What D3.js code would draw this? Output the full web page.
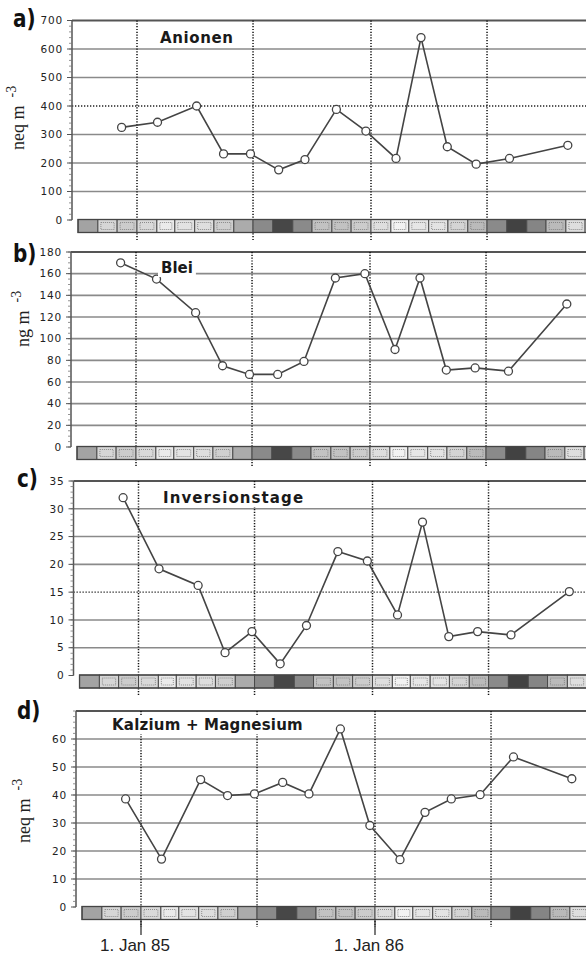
<!DOCTYPE html>
<html><head><meta charset="utf-8">
<script src="https://cdn.jsdelivr.net/npm/d3@7"></script>
<style>body{margin:0;background:#fff}svg{display:block}</style>
</head><body>
<svg id="chart" width="586" height="957"></svg>
<script>
// ---------- DATA ----------
const sampleDates = ["1984-12-08","1985-02-02","1985-04-04","1985-05-16","1985-06-27","1985-08-10",
  "1985-09-20","1985-11-08","1985-12-24","1986-02-09","1986-03-20","1986-04-30","1986-06-14",
  "1986-08-05","1986-11-04"];
const anionen = [325, 343, 400, 232, 232, 176, 212, 388, 312, 216, 640, 257, 196, 216, 262];
const blei = [170, 155, 124, 75, 67, 67, 79, 156, 160, 90, 156, 71, 73, 70, 132];
const inversionstage = [32, 19.2, 16.2, 4.1, 7.9, 2.1, 9.0, 22.3, 20.6, 10.9, 27.6, 7.0, 7.9, 7.3, 15.1];
const kalziumMagnesium = [38.6, 17.1, 45.5, 39.8, 40.4, 44.5, 40.4, 63.6, 29.1, 16.9, 33.8, 38.6, 40.1, 53.6, 45.8];

const ticksAnionen = [0, 100, 200, 300, 400, 500, 600, 700];
const ticksBlei = [0, 20, 40, 60, 80, 100, 120, 140, 160, 180];
const ticksInversion = [0, 5, 10, 15, 20, 25, 30, 35];
const ticksKalzium = [0, 10, 20, 30, 40, 50, 60];

// monthly strip (Oct 1984 .. Dec 1986), darkness level 0..1
const stripStart = "1984-10-01";
const stripEnd = "1987-01-01";
const monthLevel = [0.36, 0.16, 0.20, 0.15, 0.08, 0.11, 0.13, 0.19, 0.33, 0.46, 0.72, 0.46, 0.24,
  0.24, 0.20, 0.13, 0.05, 0.10, 0.11, 0.17, 0.27, 0.46, 0.74, 0.48, 0.27, 0.13, 0.10];

const panelLetters = ["a)", "b)", "c)", "d)"];
const panelTitles = ["Anionen", "Blei", "Inversionstage", "Kalzium + Magnesium"];
const unitLabels = ["neq m", "ng m", null, "neq m"];
const unitExponent = "-3";
const dateTickDates = ["1985-01-01", "1986-01-01"];
const dateTickLabels = ["1. Jan 85", "1. Jan 86"];
const gridDates = ["1985-01-01", "1985-07-01", "1986-01-01", "1986-07-01"];

// ---------- LAYOUT ----------
const parse = d3.timeParse("%Y-%m-%d");
const dates = sampleDates.map(parse);
const x = d3.scaleTime().domain([new Date(1985,0,1), new Date(1986,0,1)]).range([137, 371]);
const axisX = 72;

const panels = [
  {values: anionen, ticks: ticksAnionen, max: 700, top: 20.5, zero: 220, dx: 0, minor: 20, dotted: 400,
   unitPos: [24, 150], letterPos: [13, 27], titlePos: [160, 43], ls: 0.6},
  {values: blei, ticks: ticksBlei, max: 180, top: 252, zero: 447, dx: -1, minor: 5, dotted: null,
   unitPos: [29, 347], letterPos: [13, 262], titlePos: [161, 273], ls: 0},
  {values: inversionstage, ticks: ticksInversion, max: 35, top: 481, zero: 675.5, dx: 1.5, minor: 1, dotted: 15,
   unitPos: null, letterPos: [17, 487], titlePos: [163, 503], ls: 1.1},
  {values: kalziumMagnesium, ticks: ticksKalzium, max: 70, top: 711, zero: 907, dx: 4, minor: 2, dotted: null,
   unitPos: [30, 843], letterPos: [17, 719], titlePos: [112, 730], ls: 0.2}
];

const svg = d3.select("#chart");
const grey = d3.scaleLinear().domain([0, 1]).range(["#ffffff", "#000000"]);
const months = d3.timeMonths(parse(stripStart), parse(stripEnd));

panels.forEach((p, i) => {
  const y = d3.scaleLinear().domain([0, p.max]).range([p.zero, p.top]);
  const g = svg.append("g").attr("transform", `translate(${p.dx},0)`);

  // horizontal gridlines
  const gridVals = p.ticks.filter(v => v > 0 && v < p.max);
  g.selectAll(".grid").data(gridVals).join("line")
    .attr("x1", axisX).attr("x2", 620)
    .attr("y1", d => y(d)).attr("y2", d => y(d))
    .attr("stroke", d => d === p.dotted ? "#222" : "#8a8a8a")
    .attr("stroke-width", d => d === p.dotted ? 1.3 : 1.6)
    .attr("stroke-dasharray", d => d === p.dotted ? "1.3,1.7" : null);
  // top frame line
  g.append("line").attr("x1", axisX).attr("x2", 620)
    .attr("y1", y(p.max)).attr("y2", y(p.max))
    .attr("stroke", "#555").attr("stroke-width", 2.2);

  // vertical dotted lines (Jan/Jul)
  g.selectAll(".vgrid").data(gridDates.map(parse)).join("line")
    .attr("x1", d => x(d)).attr("x2", d => x(d))
    .attr("y1", y(p.max)).attr("y2", p.zero + 20)
    .attr("stroke", "#111").attr("stroke-width", 1.5)
    .attr("stroke-dasharray", "1.2,1.6");

  // monthly strip
  const sTop = p.zero - 0.5, sH = 13;
  const cells = g.selectAll(".cell").data(months).join("g");
  cells.append("rect")
    .attr("x", d => x(d)).attr("y", sTop)
    .attr("width", d => x(d3.timeMonth.offset(d, 1)) - x(d)).attr("height", sH)
    .attr("fill", (d, k) => grey(monthLevel[k]))
    .attr("stroke", "#4a4a4a").attr("stroke-width", 1);
  cells.filter((d, k) => monthLevel[k] < 0.3).append("rect")
    .attr("x", d => x(d) + 3).attr("y", sTop + 3)
    .attr("width", d => x(d3.timeMonth.offset(d, 1)) - x(d) - 6).attr("height", sH - 6)
    .attr("fill", "none").attr("stroke", "#777").attr("stroke-width", 0.8)
    .attr("stroke-dasharray", "1,1");
  g.append("rect").attr("x", x(parse(stripStart))).attr("y", sTop)
    .attr("width", 620 - x(parse(stripStart))).attr("height", sH)
    .attr("fill", "none").attr("stroke", "#444").attr("stroke-width", 1.3);

  // y axis
  g.append("line").attr("x1", axisX).attr("x2", axisX).attr("y1", y(p.max)).attr("y2", p.zero)
    .attr("stroke", "#555").attr("stroke-width", 1.5);
  g.selectAll(".minor").data(d3.range(0, p.max + 0.001, p.minor)).join("line")
    .attr("x1", axisX - 3).attr("x2", axisX).attr("y1", d => y(d)).attr("y2", d => y(d))
    .attr("stroke", "#777").attr("stroke-width", 0.8);
  g.selectAll(".major").data(p.ticks).join("line")
    .attr("x1", axisX - 5).attr("x2", axisX).attr("y1", d => y(d)).attr("y2", d => y(d))
    .attr("stroke", "#555").attr("stroke-width", 1);
  g.selectAll(".tl").data(p.ticks).join("text")
    .attr("x", axisX - 9).attr("y", d => y(d)).attr("dy", "0.36em")
    .attr("text-anchor", "end")
    .attr("font-family", "'DejaVu Sans', sans-serif").attr("font-size", 10.5)
    .attr("letter-spacing", 0.8).attr("fill", "#222")
    .text(d => d);

  // data line + markers
  const line = d3.line().x((d, k) => x(dates[k])).y(d => y(d));
  g.append("path").datum(p.values).attr("d", line)
    .attr("fill", "none").attr("stroke", "#444").attr("stroke-width", 1.6);
  g.selectAll(".pt").data(p.values).join("circle")
    .attr("cx", (d, k) => x(dates[k])).attr("cy", d => y(d)).attr("r", 4)
    .attr("fill", "#fff").attr("stroke", "#444").attr("stroke-width", 1.3);

  // date ticks under last panel
  if (i === panels.length - 1) {
    g.selectAll(".dt").data(dateTickDates.map(parse)).join("line")
      .attr("x1", d => x(d)).attr("x2", d => x(d))
      .attr("y1", sTop + sH).attr("y2", p.zero + 28)
      .attr("stroke", "#333").attr("stroke-width", 1.3);
    g.selectAll(".dl").data(dateTickDates.map(parse)).join("text")
      .attr("x", d => x(d) - 6).attr("y", p.zero + 44)
      .attr("text-anchor", "middle")
      .attr("font-family", "'Liberation Sans', Arial, sans-serif").attr("font-size", 17)
      .attr("fill", "#222")
      .text((d, k) => dateTickLabels[k]);
  }

  // title with white background
  const t = svg.append("text")
    .attr("x", p.titlePos[0]).attr("y", p.titlePos[1])
    .attr("font-family", "'DejaVu Sans', sans-serif").attr("font-weight", "bold")
    .attr("font-size", 15).attr("letter-spacing", p.ls).attr("fill", "#1a1a1a")
    .text(panelTitles[i]);
  const bb = t.node().getBBox();
  svg.insert("rect", () => t.node())
    .attr("x", bb.x - 3).attr("y", bb.y).attr("width", bb.width + 6).attr("height", bb.height)
    .attr("fill", "#fff");

  // panel letter
  svg.append("text")
    .attr("transform", `translate(${p.letterPos[0]},${p.letterPos[1]}) scale(1,1.25)`)
    .attr("font-family", "'DejaVu Sans', sans-serif").attr("font-weight", "bold")
    .attr("font-size", 20).attr("fill", "#111")
    .text(panelLetters[i]);

  // unit label
  if (unitLabels[i]) {
    const u = svg.append("text")
      .attr("transform", `translate(${p.unitPos[0]},${p.unitPos[1]}) rotate(-90)`)
      .attr("font-family", "'Liberation Serif', 'Times New Roman', serif")
      .attr("font-size", 18).attr("fill", "#222");
    u.append("tspan").text(unitLabels[i]);
    u.append("tspan").attr("dx", 8).attr("dy", -8).attr("font-size", 14).text(unitExponent);
  }
});
</script>
</body></html>
